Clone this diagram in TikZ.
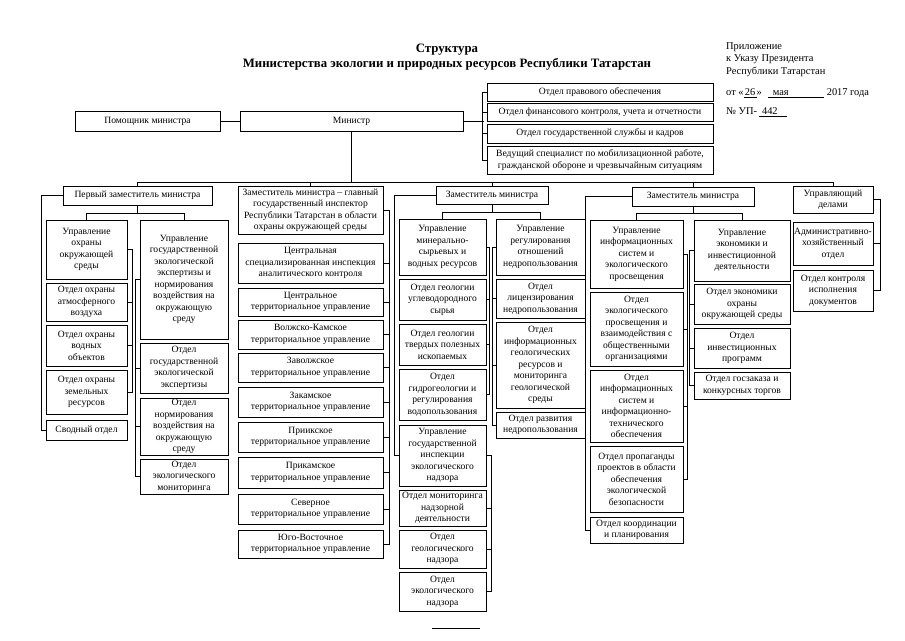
\documentclass[tikz,border=0pt]{standalone}
\usepackage{fontspec}
\setmainfont{Liberation Serif}
\tikzset{
  box/.style={draw, line width=0.75pt, inner sep=0.5pt, align=center, font=\fontsize{9.6}{11.5}\selectfont},
  conn/.style={line width=0.75pt},
  plain/.style={inner sep=0pt, font=\fontsize{10.4}{12.8}\selectfont}
}
\newcommand\orgbox[6]{\node[box, minimum width={(#4)-(#2)}, minimum height={(#5)-(#3)}] (#1) at ({((#2)+(#4))/2},{((#3)+(#5))/2}) {#6};}
\begin{document}
\begin{tikzpicture}[x=1pt,y=-1pt]
\fill[white] (0,0) rectangle (905,640);
\useasboundingbox (0,0) rectangle (905,640);

% titles
\node[plain, font=\bfseries\fontsize{12.8}{15}\selectfont] (t1) at (447,50) {Структура};
\node[plain, font=\bfseries\fontsize{12.8}{15}\selectfont] (t2) at (447,64) {Министерства экологии и природных ресурсов Республики Татарстан};
\node[plain, anchor=north west, align=left] (app) at (726,42) {Приложение\\к Указу Президента\\Республики Татарстан};
\node[plain, anchor=west] (date) at (726,93) {от «\underline{\hbox to 13pt{\hfil 26\hfil}}»\hspace{6pt}\underline{\hbox to 56pt{\hspace{5pt}мая\hfil}}\hspace{3pt}2017 года};
\node[plain, anchor=west] (num) at (726,112) {№ УП-\hspace{2pt}\underline{\hbox to 28pt{\hspace{3pt}442\hfil}}};

% top row
\orgbox{pom}{75}{111}{220}{131}{Помощник министра}
\orgbox{min}{240}{111}{463}{131}{Министр}
\orgbox{r1}{487}{83}{713}{101}{Отдел правового обеспечения}
\orgbox{r2}{487}{103}{713}{121}{Отдел финансового контроля, учета и отчетности}
\orgbox{r3}{487}{124}{713}{143}{Отдел государственной службы и кадров}
\orgbox{r4}{487}{146}{713}{174}{Ведущий специалист по мобилизационной работе,\\гражданской обороне и чрезвычайным ситуациям}
\draw[conn] (pom.east) -- (min.west);
\draw[conn] (min.east) -- ++(21,0) coordinate (rb);
\draw[conn] (r1.west) -- ++(-4,0) |- (r4.west);
\draw[conn] (r2.west) -- ++(-4,0);
\draw[conn] (r3.west) -- ++(-4,0);

% deputies
\orgbox{d1}{63}{186}{212}{205}{Первый заместитель министра}
\orgbox{d2}{238}{186}{383}{234}{Заместитель министра – главный\\государственный инспектор\\Республики Татарстан в области\\охраны окружающей среды}
\orgbox{d3}{436}{186}{548}{204}{Заместитель министра}
\orgbox{d4}{632}{187}{754}{206}{Заместитель министра}
\orgbox{d5}{793}{186}{873}{213}{Управляющий\\делами}
\coordinate (bus) at (0,182);
\draw[conn] (min.south) -- (min.south |- bus);
\draw[conn] (d1.north |- bus) -- (d5.north |- bus);
\foreach \d in {d1,d2,d3,d4,d5} \draw[conn] (\d.north) -- (\d.north |- bus);

% column 1
\orgbox{c1a}{46}{220}{127}{279}{Управление\\охраны\\окружающей\\среды}
\orgbox{c1a1}{46}{283}{127}{321}{Отдел охраны\\атмосферного\\воздуха}
\orgbox{c1a2}{46}{325}{127}{366}{Отдел охраны\\водных\\объектов}
\orgbox{c1a3}{46}{370}{127}{414}{Отдел охраны\\земельных\\ресурсов}
\orgbox{c1s}{46}{420}{127}{440}{Сводный отдел}
\orgbox{c1b}{140}{220}{228}{339}{Управление\\государственной\\экологической\\экспертизы и\\нормирования\\воздействия на\\окружающую\\среду}
\orgbox{c1b1}{140}{343}{228}{393}{Отдел\\государственной\\экологической\\экспертизы}
\orgbox{c1b2}{140}{398}{228}{455}{Отдел\\нормирования\\воздействия на\\окружающую\\среду}
\orgbox{c1b3}{140}{459}{228}{494}{Отдел\\экологического\\мониторинга}
\draw[conn] (d1.west) -- ++(-21,0) |- (c1s.west);
\coordinate (s1) at ([yshift=-8pt]d1.south);
\draw[conn] (d1.south) -- (s1);
\draw[conn] (c1a.north) -- (c1a.north |- s1) -- (c1b.north |- s1) -- (c1b.north);
\draw[conn] (c1a.east) -- ++(5,0) |- (c1a3.east);
\foreach \b in {c1a1,c1a2} \draw[conn] (\b.east) -- ++(5,0);
\draw[conn] (c1b.west) -- ++(-4,0) |- (c1b3.west);
\foreach \b in {c1b1,c1b2} \draw[conn] (\b.west) -- ++(-4,0);

% column 2
\orgbox{c2a}{238}{243}{383}{283}{Центральная\\специализированная инспекция\\аналитического контроля}
\orgbox{c2b}{238}{288}{383}{316}{Центральное\\территориальное управление}
\orgbox{c2c}{238}{320}{383}{349}{Волжско-Камское\\территориальное управление}
\orgbox{c2d}{238}{353}{383}{382}{Заволжское\\территориальное управление}
\orgbox{c2e}{238}{387}{383}{417}{Закамское\\территориальное управление}
\orgbox{c2f}{238}{422}{383}{452}{Приикское\\территориальное управление}
\orgbox{c2g}{238}{457}{383}{488}{Прикамское\\территориальное управление}
\orgbox{c2h}{238}{494}{383}{524}{Северное\\территориальное управление}
\orgbox{c2i}{238}{530}{383}{558}{Юго-Восточное\\территориальное управление}
\draw[conn] (d2.east) -- ++(6,0) |- (c2i.east);
\foreach \b in {c2a,c2b,c2c,c2d,c2e,c2f,c2g,c2h} \draw[conn] (\b.east) -- ++(6,0);

% column 3
\orgbox{c3a}{399}{219}{486}{275}{Управление\\минерально-\\сырьевых и\\водных ресурсов}
\orgbox{c3a1}{399}{279}{486}{320}{Отдел геологии\\углеводородного\\сырья}
\orgbox{c3a2}{399}{324}{486}{365}{Отдел геологии\\твердых полезных\\ископаемых}
\orgbox{c3a3}{399}{369}{486}{420}{Отдел\\гидрогеологии и\\регулирования\\водопользования}
\orgbox{c3u}{399}{425}{486}{486}{Управление\\государственной\\инспекции\\экологического\\надзора}
\orgbox{c3u1}{399}{490}{486}{526}{Отдел мониторинга\\надзорной\\деятельности}
\orgbox{c3u2}{399}{530}{486}{568}{Отдел\\геологического\\надзора}
\orgbox{c3u3}{399}{572}{486}{611}{Отдел\\экологического\\надзора}
\orgbox{c3b}{496}{219}{585}{275}{Управление\\регулирования\\отношений\\недропользования}
\orgbox{c3b1}{496}{279}{585}{318}{Отдел\\лицензирования\\недропользования}
\orgbox{c3b2}{496}{322}{585}{408}{Отдел\\информационных\\геологических\\ресурсов и\\мониторинга\\геологической\\среды}
\orgbox{c3b3}{496}{412}{585}{438}{Отдел развития\\недропользования}
\draw[conn] (d3.west) -- ++(-41,0) |- (c3u.west);
\coordinate (s3) at ([yshift=-8pt]d3.south);
\draw[conn] (d3.south) -- (s3);
\draw[conn] (c3a.north) -- (c3a.north |- s3) -- (c3b.north |- s3) -- (c3b.north);
\draw[conn] (c3a.east) -- ++(3,0) |- (c3a3.east);
\foreach \b in {c3a1,c3a2} \draw[conn] (\b.east) -- ++(3,0);
\draw[conn] (c3u.east) -- ++(5,0) |- (c3u3.east);
\foreach \b in {c3u1,c3u2} \draw[conn] (\b.east) -- ++(5,0);
\draw[conn] (c3b.west) -- ++(-3,0) |- (c3b3.west);
\foreach \b in {c3b1,c3b2} \draw[conn] (\b.west) -- ++(-3,0);

% column 4
\orgbox{c4a}{590}{220}{683}{288}{Управление\\информационных\\систем и\\экологического\\просвещения}
\orgbox{c4a1}{590}{292}{683}{366}{Отдел\\экологического\\просвещения и\\взаимодействия с\\общественными\\организациями}
\orgbox{c4a2}{590}{370}{683}{442}{Отдел\\информационных\\систем и\\информационно-\\технического\\обеспечения}
\orgbox{c4a3}{590}{446}{683}{512}{Отдел пропаганды\\проектов в области\\обеспечения\\экологической\\безопасности}
\orgbox{c4e}{590}{517}{683}{543}{Отдел координации\\и планирования}
\orgbox{c4b}{694}{220}{790}{281}{Управление\\экономики и\\инвестиционной\\деятельности}
\orgbox{c4b1}{694}{284}{790}{324}{Отдел экономики\\охраны\\окружающей среды}
\orgbox{c4b2}{694}{328}{790}{368}{Отдел\\инвестиционных\\программ}
\orgbox{c4b3}{694}{372}{790}{399}{Отдел госзаказа и\\конкурсных торгов}
\draw[conn] (d4.west) -- ++(-46,0) |- (c4e.west);
\coordinate (s4) at ([yshift=-7pt]d4.south);
\draw[conn] (d4.south) -- (s4);
\draw[conn] (c4a.north) -- (c4a.north |- s4) -- (c4b.north |- s4) -- (c4b.north);
\draw[conn] (c4a.east) -- ++(4,0) |- (c4a3.east);
\foreach \b in {c4a1,c4a2} \draw[conn] (\b.east) -- ++(4,0);
\draw[conn] (c4b.west) -- ++(-4,0) |- (c4b3.west);
\foreach \b in {c4b1,c4b2} \draw[conn] (\b.west) -- ++(-4,0);

% column 5
\orgbox{c5a}{793}{222}{873}{265}{Административно-\\хозяйственный\\отдел}
\orgbox{c5b}{793}{270}{873}{311}{Отдел контроля\\исполнения\\документов}
\draw[conn] (d5.east) -- ++(7,0) |- (c5b.east);
\draw[conn] (c5a.east) -- ++(7,0);

% bottom stroke
\draw[line width=0.6pt] (432,628) -- (480,628);
\end{tikzpicture}
\end{document}
